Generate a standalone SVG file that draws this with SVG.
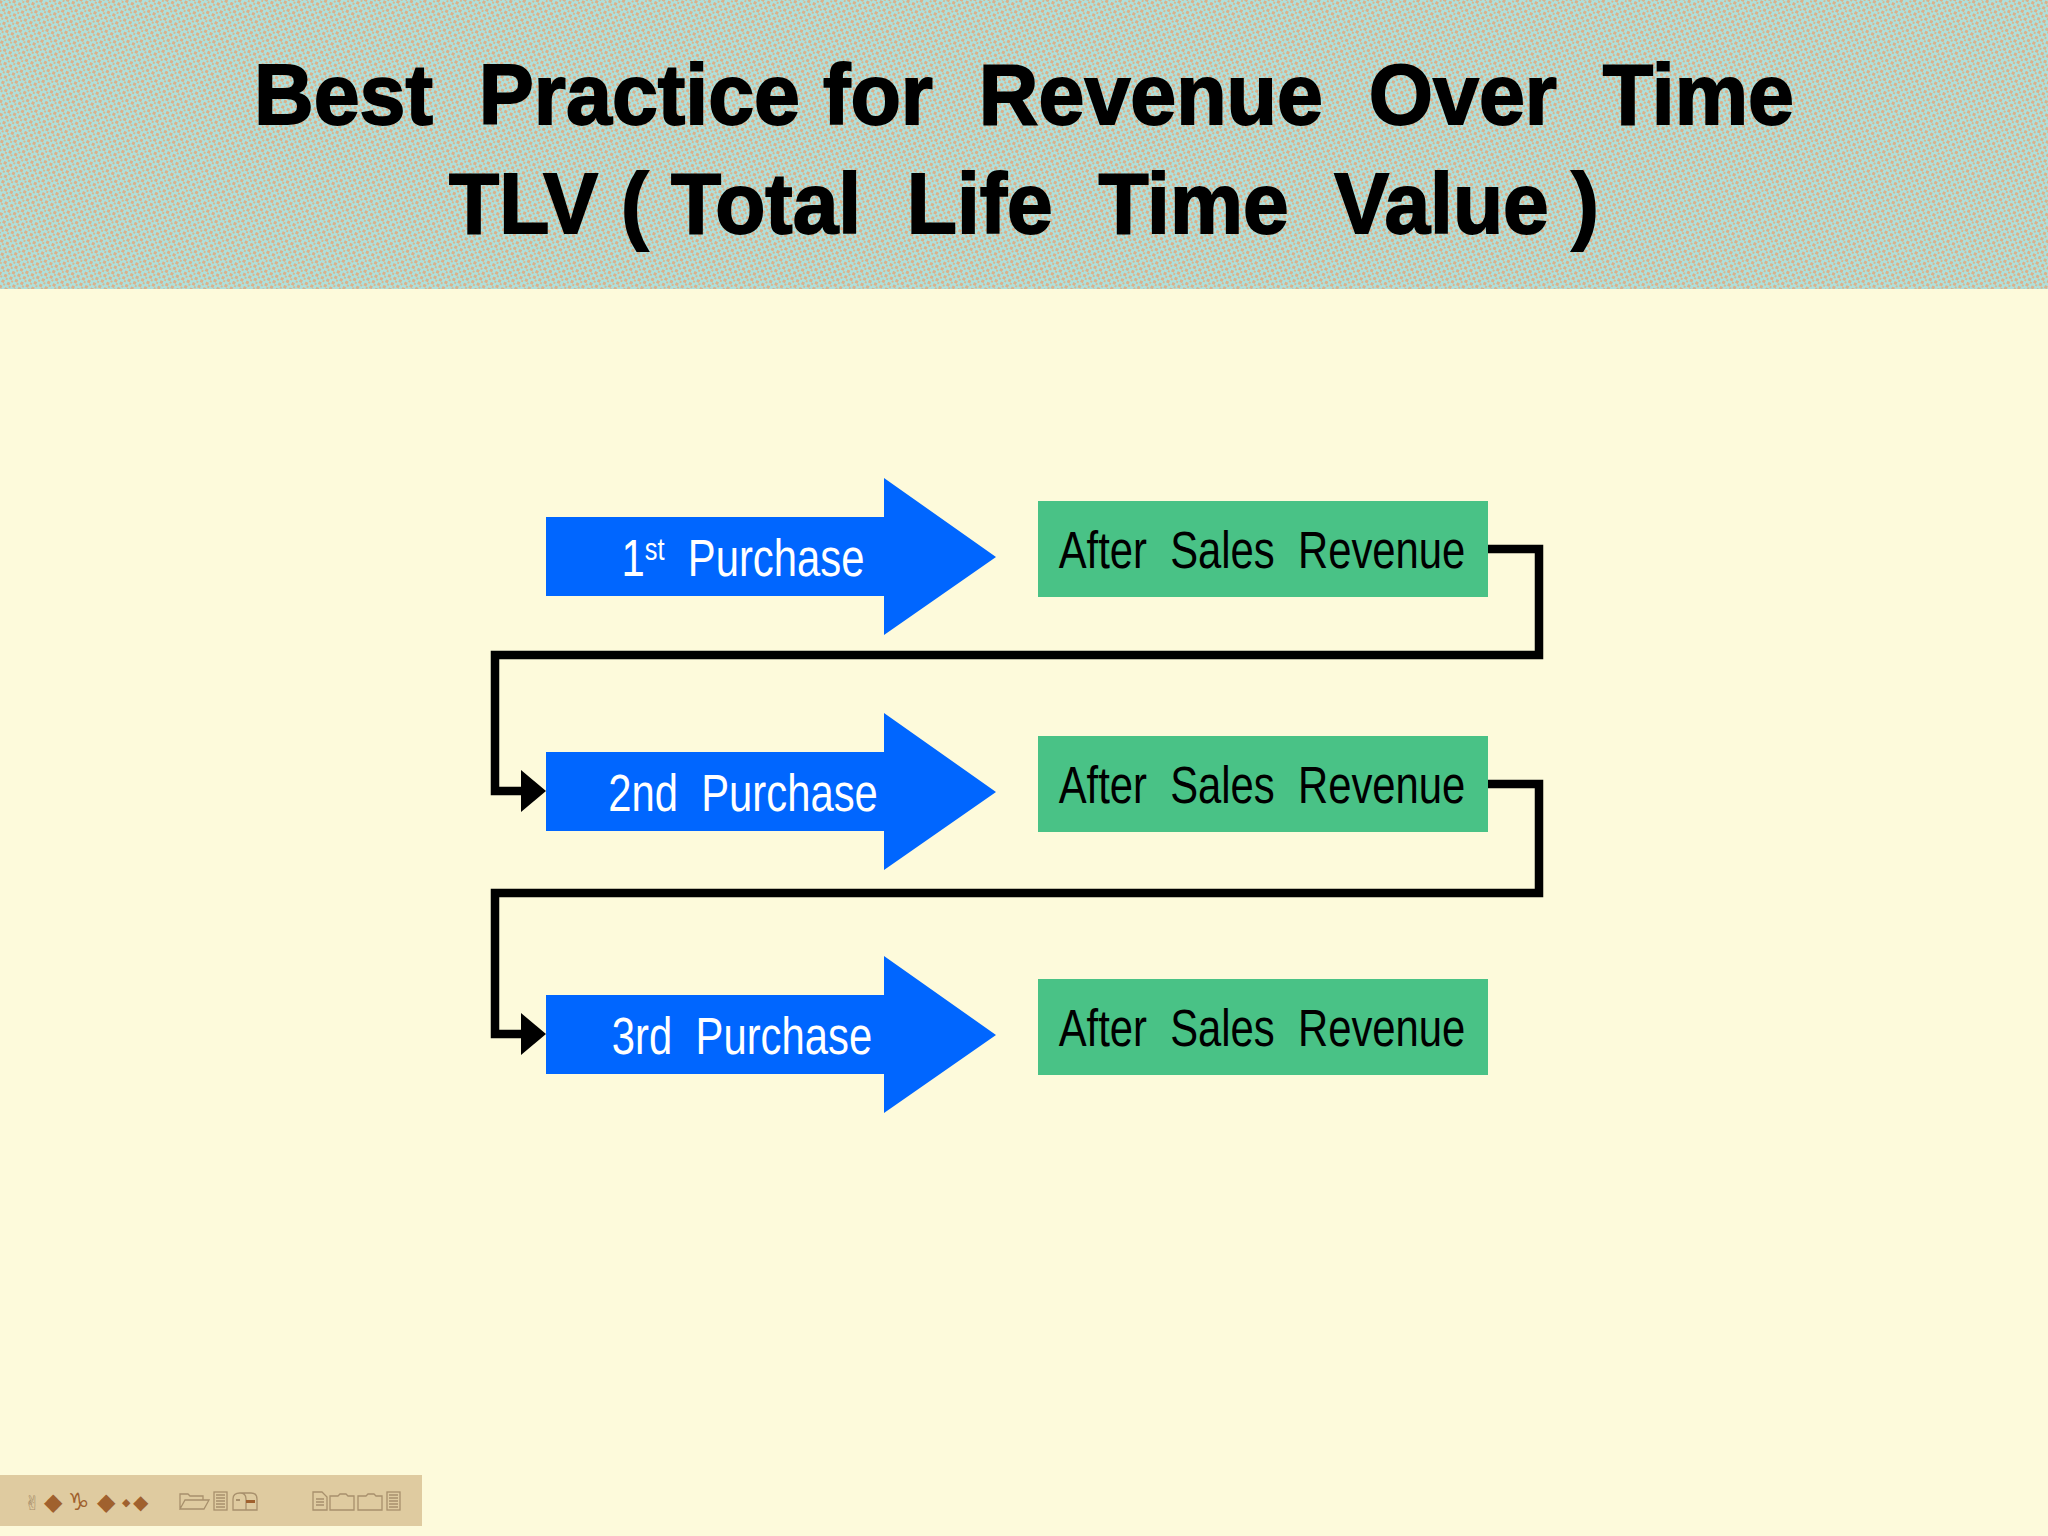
<svg xmlns="http://www.w3.org/2000/svg" width="2048" height="1536" viewBox="0 0 2048 1536">
  <defs>
    <pattern id="stipple" width="6" height="6" patternUnits="userSpaceOnUse" patternTransform="rotate(25)">
      <rect width="6" height="6" fill="#aee0dc"/>
      <rect x="0" y="0" width="3" height="3" fill="#dbb08a"/>
      <rect x="3" y="3" width="2" height="2" fill="#d8b690"/>
    </pattern>
  </defs>
  <style>
    .title { font-family: "Liberation Sans", Arial, sans-serif; font-weight: bold; font-size: 86px; fill: #000; stroke: #000; stroke-width: 1.8; white-space: pre; }
    .purchase { fill: #0066ff; }
    .ptext { font-family: "Liberation Sans", Arial, sans-serif; font-size: 51px; fill: #ffffff; white-space: pre; }
    .box { fill: #49c286; }
    .btext { font-family: "Liberation Sans", Arial, sans-serif; font-size: 51px; fill: #000; white-space: pre; }
    .conn { fill: none; stroke: #000; stroke-width: 8.5; stroke-linejoin: miter; }
    .head { fill: #000; }
    .icon { fill: none; stroke: #a8906c; stroke-width: 1.3; }
    .sym { font-family: "DejaVu Sans", sans-serif; fill: #a0612e; }
  </style>

  <!-- background -->
  <rect x="0" y="0" width="2048" height="1536" fill="#fdfadb"/>
  <rect x="0" y="0" width="2048" height="289" fill="url(#stipple)"/>

  <!-- title -->
  <g id="title">
    <text class="title" xml:space="preserve" text-anchor="middle" transform="translate(1024 124) scale(0.96 1)">Best  Practice for  Revenue  Over  Time</text>
    <text class="title" xml:space="preserve" text-anchor="middle" transform="translate(1024 233) scale(0.955 1)">TLV ( Total  Life  Time  Value )</text>
  </g>

  <!-- connectors -->
  <g id="connectors">
    <path class="conn" d="M1486,549 H1539 V655 H495 V791 H524"/>
    <polygon class="head" points="521,770 546,791 521,812"/>
    <path class="conn" d="M1486,784 H1539 V893 H495 V1034 H524"/>
    <polygon class="head" points="521,1013 546,1034 521,1055"/>
  </g>

  <!-- row 1 -->
  <g id="purchase1">
    <polygon class="purchase" points="546,517 884,517 884,478 996,557 884,635 884,596 546,596"/>
    <text class="ptext" xml:space="preserve" text-anchor="middle" transform="translate(743 576) scale(0.82 1)">1<tspan dy="-16" font-size="31">st</tspan><tspan dy="16">  Purchase</tspan></text>
  </g>
  <g id="revenue1">
    <rect class="box" x="1038" y="501" width="450" height="96"/>
    <text class="btext" xml:space="preserve" text-anchor="middle" transform="translate(1262 568) scale(0.82 1)">After  Sales  Revenue</text>
  </g>

  <!-- row 2 -->
  <g id="purchase2">
    <polygon class="purchase" points="546,752 884,752 884,713 996,792 884,870 884,831 546,831"/>
    <text class="ptext" xml:space="preserve" text-anchor="middle" transform="translate(743 811) scale(0.82 1)">2nd  Purchase</text>
  </g>
  <g id="revenue2">
    <rect class="box" x="1038" y="736" width="450" height="96"/>
    <text class="btext" xml:space="preserve" text-anchor="middle" transform="translate(1262 803) scale(0.82 1)">After  Sales  Revenue</text>
  </g>

  <!-- row 3 -->
  <g id="purchase3">
    <polygon class="purchase" points="546,995 884,995 884,956 996,1035 884,1113 884,1074 546,1074"/>
    <text class="ptext" xml:space="preserve" text-anchor="middle" transform="translate(742 1054) scale(0.82 1)">3rd  Purchase</text>
  </g>
  <g id="revenue3">
    <rect class="box" x="1038" y="979" width="450" height="96"/>
    <text class="btext" xml:space="preserve" text-anchor="middle" transform="translate(1262 1046) scale(0.82 1)">After  Sales  Revenue</text>
  </g>

  <!-- footer -->
  <g id="footer">
    <rect x="0" y="1475" width="422" height="51" fill="#dfcba0"/>
    <text class="sym" x="24" y="1510" font-size="20" style="fill:#a8906c">✌</text>
    <text class="sym" x="44" y="1510" font-size="24">◆</text>
    <text class="sym" x="68" y="1510" font-size="24">♑</text>
    <text class="sym" x="97" y="1510" font-size="24">◆</text>
    <text class="sym" x="122" y="1506" font-size="11">◆</text>
    <text class="sym" x="133" y="1509" font-size="20">◆</text>
    <!-- open folder -->
    <path class="icon" d="M180,1509 V1494 H188 L190,1496 H203 V1500 M180,1509 L185,1500 H209 L204,1509 Z"/>
    <!-- document -->
    <rect class="icon" x="214" y="1492" width="13" height="18"/>
    <path class="icon" d="M216,1495 H225 M216,1498 H225 M216,1501 H225 M216,1504 H225 M216,1507 H225"/>
    <!-- mailbox -->
    <path class="icon" d="M233,1510 V1499 Q233,1493 240,1493 H251 Q257,1493 257,1499 V1510 Z M240,1493 Q246,1493 246,1499 V1510"/>
    <rect x="246" y="1500" width="9" height="3" fill="#a0612e"/>
    <rect x="236" y="1499" width="4" height="2" fill="#a8906c"/>
    <!-- document with fold -->
    <path class="icon" d="M313,1492 H322 L327,1497 V1510 H313 Z M316,1499 H324 M316,1502 H324 M316,1505 H324"/>
    <!-- folders -->
    <path class="icon" d="M330,1496 H338 L340,1494 H346 L348,1496 H354 V1510 H330 Z"/>
    <path class="icon" d="M358,1496 H366 L368,1494 H374 L376,1496 H382 V1510 H358 Z"/>
    <!-- document -->
    <rect class="icon" x="387" y="1492" width="13" height="18"/>
    <path class="icon" d="M389,1495 H398 M389,1498 H398 M389,1501 H398 M389,1504 H398 M389,1507 H398"/>
  </g>
</svg>
